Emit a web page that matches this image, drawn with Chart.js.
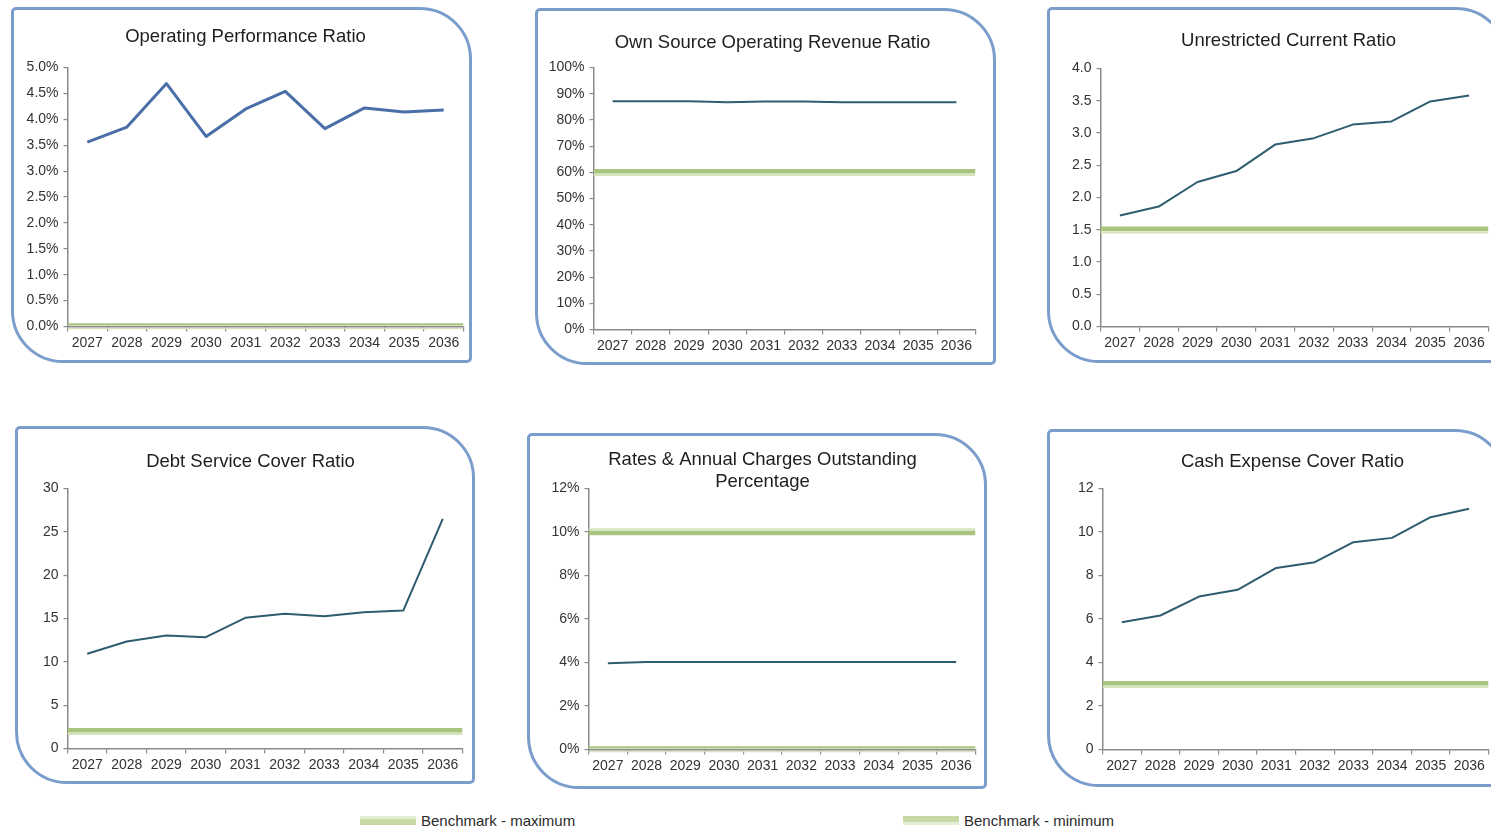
<!DOCTYPE html>
<html>
<head>
<meta charset="utf-8">
<title>Financial Performance Ratios 2027-2036</title>
<script src="https://cdn.jsdelivr.net/npm/chart.js@4.4.1/dist/chart.umd.min.js"></script>
<style>
  html, body { margin: 0; padding: 0; background: #fff; }
  body { position: relative; width: 1491px; height: 829px; overflow: hidden; }
  .panel { position: absolute; box-sizing: border-box; border: 3px solid #7b9dcc;
           border-radius: 5px 52px 5px 52px; background: #fff; }
  .panel canvas { position: absolute; left: 0; top: 0; }
  .legend { position: absolute; height: 20px; display: flex; align-items: center;
            font: 15px 'Liberation Sans', Arial, sans-serif; color: #2b2b2b; white-space: nowrap; }
  .swatch { display: inline-block; width: 56px; height: 9px; margin-right: 5px; }
  .swatch.max { background: linear-gradient(#e4eed6 0 30%, #c7daa6 30% 100%); }
  .swatch.min { background: linear-gradient(#c7daa6 0 70%, #e4eed6 70% 100%); }
</style>
</head>
<body>

<div class="legend" style="left:360px; top:810px;"><span class="swatch max"></span>Benchmark - maximum</div>
<div class="legend" style="left:903px; top:810px;"><span class="swatch min"></span>Benchmark - minimum</div>

<script>
// ---- Data ----------------------------------------------------------------
const years = ['2027', '2028', '2029', '2030', '2031', '2032', '2033', '2034', '2035', '2036'];

const operatingPerformance = [3.56, 3.85, 4.69, 3.67, 4.20, 4.54, 3.82, 4.22, 4.14, 4.18];     // %
const ownSourceRevenue     = [87.1, 87.1, 87.1, 86.7, 87.0, 87.0, 86.7, 86.7, 86.7, 86.7];     // %
const unrestrictedCurrent  = [1.72, 1.86, 2.24, 2.41, 2.82, 2.92, 3.13, 3.18, 3.49, 3.58];     // x
const debtServiceCover     = [10.93, 12.35, 13.04, 12.85, 15.08, 15.54, 15.27, 15.73, 15.92, 26.5];
const ratesOutstanding     = [3.97, 4.02, 4.02, 4.02, 4.02, 4.02, 4.02, 4.02, 4.02, 4.02];     // %
const cashExpenseCover     = [5.85, 6.16, 7.03, 7.34, 8.35, 8.61, 9.53, 9.73, 10.68, 11.07];  // months

const chartTitles = [
  'Operating Performance Ratio',
  'Own Source Operating Revenue Ratio',
  'Unrestricted Current Ratio',
  'Debt Service Cover Ratio',
  ['Rates & Annual Charges Outstanding', 'Percentage'],
  'Cash Expense Cover Ratio'
];
const seriesValues     = [operatingPerformance, ownSourceRevenue, unrestrictedCurrent,
                          debtServiceCover, ratesOutstanding, cashExpenseCover];
const benchmarkMinimum = [0, 60, 1.5, 2, 0, 3];
const benchmarkMaximum = [null, null, null, null, 10, null];
const yAxisMax         = [5, 100, 4, 30, 12, 12];
const yAxisStep        = [0.5, 10, 0.5, 5, 2, 2];
const yTickFormats     = [
  v => v.toFixed(1) + '%',
  v => v + '%',
  v => v.toFixed(1),
  v => String(v),
  v => v + '%',
  v => String(v)
];

// ---- Layout (page pixels: panel border, plot area, title centre) ---------
const panelLayout = [
  { box: [12, 8, 470, 361],      area: [67, 67, 463, 326],    title: [245, 36] },
  { box: [536, 9, 994, 363],     area: [593, 67, 975, 329],   title: [772, 42] },
  { box: [1048, 8, 1506, 361],   area: [1100, 68, 1488, 326], title: [1288, 40] },
  { box: [16, 427, 473, 782],    area: [67, 488, 462, 748],   title: [250, 461] },
  { box: [528, 434, 985, 787],   area: [588, 488, 975, 749],  title: [762, 470.5] },
  { box: [1048, 430, 1505, 785], area: [1102, 488, 1488, 749], title: [1292, 461] }
];

const BORDER = 3;
const TITLE_SIZE = 18.5, TITLE_LH = 1.17;
const TICK_FONT = { family: "'Liberation Sans', Arial, sans-serif", size: 14 };
const AXIS_GREY = '#8a8a8a';
const BAND_DARK = '#a9c47c', BAND_LIGHT = '#d5e4bd';

// Offsets the two stripes of a benchmark band by a few pixels.
const bandShift = {
  id: 'bandShift',
  beforeDatasetDraw(chart, args) {
    const dy = args.meta._dataset.shiftY;
    if (dy) { chart.ctx.save(); chart.ctx.translate(0, dy); }
  },
  afterDatasetDraw(chart, args) {
    if (args.meta._dataset.shiftY) chart.ctx.restore();
  }
};

function bandDatasets(value, kind) {
  if (value === null || value === undefined) return [];
  const pts = [{ x: 0, y: value }, { x: 1, y: value }];
  const common = { xAxisID: 'xb', pointRadius: 0, tension: 0, fill: false };
  // minimum: dark stripe above, light stripe below; maximum: the reverse
  const darkShift = kind === 'min' ? -1 : 1;
  const lightShift = kind === 'min' ? 2.7 : -2.7;
  return [
    Object.assign({ label: 'Benchmark - ' + (kind === 'min' ? 'minimum' : 'maximum'),
                    data: pts, borderColor: BAND_DARK, borderWidth: 4.5, shiftY: darkShift }, common),
    Object.assign({ label: '', data: pts, borderColor: BAND_LIGHT, borderWidth: 2.2, shiftY: lightShift }, common)
  ];
}

panelLayout.forEach((lay, i) => {
  const ox = lay.box[0] - BORDER / 2, oy = lay.box[1] - BORDER / 2;
  const outerW = lay.box[2] - lay.box[0] + BORDER, outerH = lay.box[3] - lay.box[1] + BORDER;

  const panel = document.createElement('div');
  panel.className = 'panel';
  Object.assign(panel.style, { left: ox + 'px', top: oy + 'px', width: outerW + 'px', height: outerH + 'px' });
  document.body.appendChild(panel);

  // canvas origin = inner corner of the panel
  const cx = ox + BORDER, cy = oy + BORDER;
  const innerW = outerW - 2 * BORDER, innerH = outerH - 2 * BORDER;
  const aL = lay.area[0] - cx, aT = lay.area[1] - cy, aR = lay.area[2] - cx, aB = lay.area[3] - cy;

  // the title spans [0, titleSpan] so that it is centred on the given point
  const titleSpan = 2 * (lay.title[0] - cx);
  const W = Math.ceil(Math.max(innerW, titleSpan));
  const H = Math.round(innerH);
  const padRight = W - titleSpan;
  const rightGap = Math.max(0, titleSpan - aR);
  const yWidth = aL;
  const xHeight = H - aB;

  const canvas = document.createElement('canvas');
  canvas.width = W; canvas.height = H;
  canvas.style.width = W + 'px'; canvas.style.height = H + 'px';
  panel.appendChild(canvas);

  const title = chartTitles[i];
  const lines = Array.isArray(title) ? title.length : 1;
  const lh = TITLE_SIZE * TITLE_LH;
  const tTop = (lay.title[1] - cy) - lines * lh / 2;
  const tBottom = aT - tTop - lines * lh;

  const datasets = [{
    label: Array.isArray(title) ? title.join(' ') : title,
    data: seriesValues[i],
    xAxisID: 'x',
    borderColor: i === 0 ? '#4a6fa8' : '#2e5d70',
    borderWidth: i === 0 ? 3 : 2,
    pointRadius: 0,
    tension: 0,
    fill: false,
    borderJoinStyle: 'round'
  }].concat(bandDatasets(benchmarkMaximum[i], 'max'), bandDatasets(benchmarkMinimum[i], 'min'));

  new Chart(canvas, {
    type: 'line',
    data: { labels: years, datasets },
    plugins: [bandShift],
    options: {
      responsive: false,
      animation: false,
      devicePixelRatio: 1,
      layout: { padding: { left: 0, right: padRight, top: 0, bottom: 0 } },
      plugins: {
        legend: { display: false },
        tooltip: { enabled: false },
        title: {
          display: true,
          text: title,
          color: '#1e1e1e',
          font: { family: "'Liberation Sans', Arial, sans-serif", size: TITLE_SIZE, weight: 'normal', lineHeight: TITLE_LH },
          padding: { top: tTop, bottom: tBottom }
        }
      },
      scales: {
        x: {
          type: 'category',
          offset: true,
          grid: { offset: true, drawOnChartArea: false, drawTicks: true, tickLength: 5, color: AXIS_GREY, lineWidth: 1.2 },
          border: { display: true, color: AXIS_GREY, width: 1.5 },
          ticks: { color: '#333', font: TICK_FONT, padding: 3, maxRotation: 0, autoSkip: false },
          afterFit: s => { s.height = xHeight; }
        },
        xb: { type: 'linear', display: false, min: 0, max: 1 },
        y: {
          position: 'left',
          min: 0,
          max: yAxisMax[i],
          grid: { drawOnChartArea: false, drawTicks: true, tickLength: 4, color: AXIS_GREY, lineWidth: 1.2 },
          border: { display: true, color: AXIS_GREY, width: 1.5 },
          ticks: { stepSize: yAxisStep[i], color: '#333', font: TICK_FONT, padding: 5,
                   callback: yTickFormats[i] },
          afterFit: s => { s.width = yWidth; }
        },
        // empty spacer on the right so the plot ends where the title span requires
        spacer: {
          type: 'linear', position: 'right', display: true,
          grid: { display: false, drawTicks: false }, border: { display: false },
          ticks: { display: false },
          afterFit: s => { s.width = rightGap; }
        }
      }
    }
  });
});
</script>
</body>
</html>
